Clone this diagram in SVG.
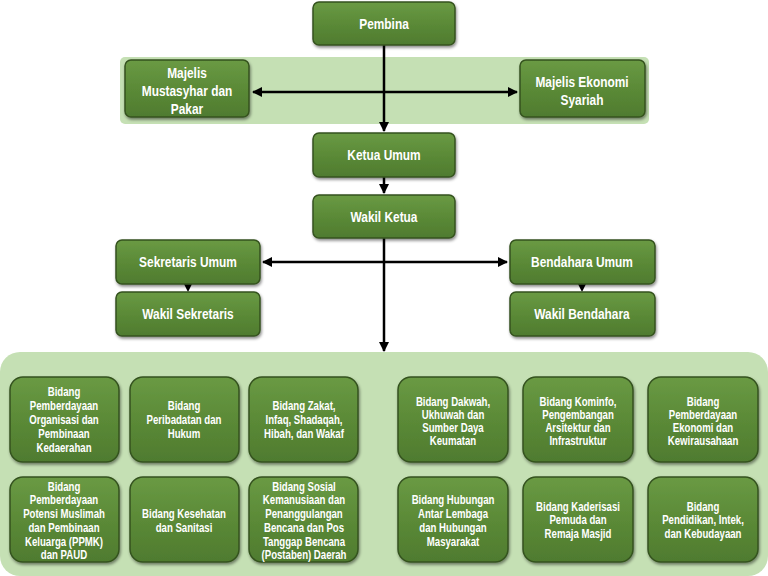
<svg xmlns="http://www.w3.org/2000/svg" width="768" height="576" viewBox="0 0 768 576">
<defs>
<linearGradient id="g" x1="0" y1="0" x2="0" y2="1">
<stop offset="0" stop-color="#6a9a44"/>
<stop offset="0.5" stop-color="#5b8a37"/>
<stop offset="1" stop-color="#4f7b2f"/>
</linearGradient>
<filter id="sh" x="-10%" y="-10%" width="130%" height="140%">
<feDropShadow dx="1" dy="2" stdDeviation="1.5" flood-color="#000" flood-opacity="0.45"/>
</filter>
<marker id="ah" viewBox="0 0 10 10" refX="9" refY="5" markerWidth="4" markerHeight="4" orient="auto-start-reverse" markerUnits="strokeWidth">
<path d="M0,0 L10,5 L0,10 z" fill="#000"/>
</marker>
</defs>
<style>
.box{fill:url(#g);stroke:#34521f;stroke-width:1.5;filter:url(#sh)}
.t{font-family:"Liberation Sans Narrow","Liberation Sans",Arial,sans-serif;font-weight:bold;fill:#fff;text-anchor:middle}
.m{font-size:14px}
.s{font-size:12.5px}
.c{stroke:#000;stroke-width:2.5;fill:none}
.band{fill:#c5e0b4}
</style>
<rect class="band" x="120" y="57" width="529" height="67" rx="5"/>
<rect class="band" x="0" y="352" width="768" height="224" rx="20"/>
<g id="connectors">
<line class="c" x1="384" y1="45" x2="384" y2="131" marker-end="url(#ah)"/>
<line class="c" x1="253" y1="92" x2="517" y2="92" marker-start="url(#ah)" marker-end="url(#ah)"/>
<line class="c" x1="384" y1="177" x2="384" y2="193" marker-end="url(#ah)"/>
<line class="c" x1="384" y1="238" x2="384" y2="351" marker-end="url(#ah)"/>
<line class="c" x1="263" y1="262" x2="507" y2="262" marker-start="url(#ah)" marker-end="url(#ah)"/>
<path d="M184,284 L192,284 L188,292 z" fill="#000"/>
<path d="M578,284 L586,284 L582,292 z" fill="#000"/>
</g>
<g id="pembina"><rect class="box" x="313" y="2" width="142" height="43" rx="6"/><g transform="translate(384,0) scale(0.85,1)"><text class="t m" x="0" y="29">Pembina</text></g></g>
<g id="majelis-mustasyhar"><rect class="box" x="125" y="60" width="124" height="57" rx="6"/><g transform="translate(187,0) scale(0.85,1)"><text class="t m"><tspan x="0" y="78">Majelis</tspan><tspan x="0" y="96">Mustasyhar dan</tspan><tspan x="0" y="114">Pakar</tspan></text></g></g>
<g id="majelis-ekonomi"><rect class="box" x="520" y="60" width="125" height="57" rx="6"/><g transform="translate(582,0) scale(0.85,1)"><text class="t m"><tspan x="0" y="87">Majelis Ekonomi</tspan><tspan x="0" y="105">Syariah</tspan></text></g></g>
<g id="ketua-umum"><rect class="box" x="313" y="133" width="142" height="44" rx="6"/><g transform="translate(384,0) scale(0.85,1)"><text class="t m" x="0" y="160">Ketua Umum</text></g></g>
<g id="wakil-ketua"><rect class="box" x="313" y="195" width="142" height="43" rx="6"/><g transform="translate(384,0) scale(0.85,1)"><text class="t m" x="0" y="222">Wakil Ketua</text></g></g>
<g id="sekretaris-umum"><rect class="box" x="116" y="240" width="144" height="44" rx="6"/><g transform="translate(188,0) scale(0.85,1)"><text class="t m" x="0" y="267">Sekretaris Umum</text></g></g>
<g id="wakil-sekretaris"><rect class="box" x="116" y="292" width="144" height="44" rx="6"/><g transform="translate(188,0) scale(0.85,1)"><text class="t m" x="0" y="319">Wakil Sekretaris</text></g></g>
<g id="bendahara-umum"><rect class="box" x="510" y="240" width="145" height="44" rx="6"/><g transform="translate(582,0) scale(0.85,1)"><text class="t m" x="0" y="267">Bendahara Umum</text></g></g>
<g id="wakil-bendahara"><rect class="box" x="510" y="292" width="145" height="44" rx="6"/><g transform="translate(582,0) scale(0.85,1)"><text class="t m" x="0" y="319">Wakil Bendahara</text></g></g>
<g id="bidang-1"><rect class="box" x="10" y="377" width="109" height="85" rx="13"/><g transform="translate(64,0) scale(0.77,1)"><text class="t s"><tspan x="0" y="396">Bidang</tspan><tspan x="0" y="410">Pemberdayaan</tspan><tspan x="0" y="424">Organisasi dan</tspan><tspan x="0" y="438">Pembinaan</tspan><tspan x="0" y="452">Kedaerahan</tspan></text></g></g>
<g id="bidang-2"><rect class="box" x="130" y="377" width="109" height="85" rx="13"/><g transform="translate(184,0) scale(0.77,1)"><text class="t s"><tspan x="0" y="410">Bidang</tspan><tspan x="0" y="424">Peribadatan dan</tspan><tspan x="0" y="438">Hukum</tspan></text></g></g>
<g id="bidang-3"><rect class="box" x="249" y="377" width="109" height="85" rx="13"/><g transform="translate(304,0) scale(0.77,1)"><text class="t s"><tspan x="0" y="410">Bidang Zakat,</tspan><tspan x="0" y="424">Infaq, Shadaqah,</tspan><tspan x="0" y="438">Hibah, dan Wakaf</tspan></text></g></g>
<g id="bidang-4"><rect class="box" x="398" y="377" width="110" height="85" rx="13"/><g transform="translate(453,0) scale(0.77,1)"><text class="t s"><tspan x="0" y="406">Bidang Dakwah,</tspan><tspan x="0" y="419.5">Ukhuwah dan</tspan><tspan x="0" y="432">Sumber Daya</tspan><tspan x="0" y="445">Keumatan</tspan></text></g></g>
<g id="bidang-5"><rect class="box" x="523" y="377" width="110" height="85" rx="13"/><g transform="translate(578,0) scale(0.77,1)"><text class="t s"><tspan x="0" y="406">Bidang Kominfo,</tspan><tspan x="0" y="419.5">Pengembangan</tspan><tspan x="0" y="432">Arsitektur dan</tspan><tspan x="0" y="445">Infrastruktur</tspan></text></g></g>
<g id="bidang-6"><rect class="box" x="648" y="377" width="110" height="85" rx="13"/><g transform="translate(703,0) scale(0.77,1)"><text class="t s"><tspan x="0" y="406">Bidang</tspan><tspan x="0" y="419.5">Pemberdayaan</tspan><tspan x="0" y="432">Ekonomi dan</tspan><tspan x="0" y="445">Kewirausahaan</tspan></text></g></g>
<g id="bidang-7"><rect class="box" x="10" y="477" width="109" height="85" rx="13"/><g transform="translate(64,0) scale(0.77,1)"><text class="t s"><tspan x="0" y="491">Bidang</tspan><tspan x="0" y="504.5">Pemberdayaan</tspan><tspan x="0" y="518.5">Potensi Muslimah</tspan><tspan x="0" y="532">dan Pembinaan</tspan><tspan x="0" y="546">Keluarga (PPMK)</tspan><tspan x="0" y="559.5">dan PAUD</tspan></text></g></g>
<g id="bidang-8"><rect class="box" x="130" y="477" width="109" height="85" rx="13"/><g transform="translate(184,0) scale(0.77,1)"><text class="t s"><tspan x="0" y="518.5">Bidang Kesehatan</tspan><tspan x="0" y="532">dan Sanitasi</tspan></text></g></g>
<g id="bidang-9"><rect class="box" x="249" y="477" width="109" height="85" rx="13"/><g transform="translate(304,0) scale(0.77,1)"><text class="t s"><tspan x="0" y="491">Bidang Sosial</tspan><tspan x="0" y="504.5">Kemanusiaan dan</tspan><tspan x="0" y="518.5">Penanggulangan</tspan><tspan x="0" y="532">Bencana dan Pos</tspan><tspan x="0" y="546">Tanggap Bencana</tspan><tspan x="0" y="559.5">(Postaben) Daerah</tspan></text></g></g>
<g id="bidang-10"><rect class="box" x="398" y="477" width="110" height="85" rx="13"/><g transform="translate(453,0) scale(0.77,1)"><text class="t s"><tspan x="0" y="504">Bidang Hubungan</tspan><tspan x="0" y="518.5">Antar Lembaga</tspan><tspan x="0" y="532">dan Hubungan</tspan><tspan x="0" y="546">Masyarakat</tspan></text></g></g>
<g id="bidang-11"><rect class="box" x="523" y="477" width="110" height="85" rx="13"/><g transform="translate(578,0) scale(0.77,1)"><text class="t s"><tspan x="0" y="511">Bidang Kaderisasi</tspan><tspan x="0" y="524.5">Pemuda dan</tspan><tspan x="0" y="538.5">Remaja Masjid</tspan></text></g></g>
<g id="bidang-12"><rect class="box" x="648" y="477" width="110" height="85" rx="13"/><g transform="translate(703,0) scale(0.77,1)"><text class="t s"><tspan x="0" y="511">Bidang</tspan><tspan x="0" y="524.5">Pendidikan, Intek,</tspan><tspan x="0" y="538.5">dan Kebudayaan</tspan></text></g></g>
</svg>
